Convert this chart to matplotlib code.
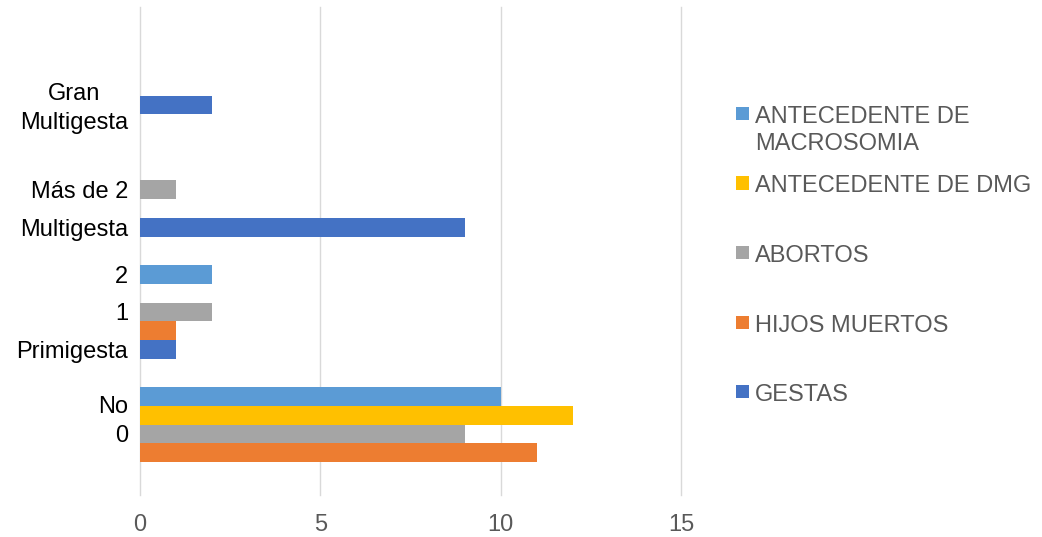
import matplotlib.pyplot as plt
from matplotlib.patches import Rectangle

plt.rcParams['font.family'] = ['Liberation Sans', 'DejaVu Sans']

# series, drawn bottom to top inside each group
series = ['GESTAS', 'HIJOS MUERTOS', 'ABORTOS', 'ANTECEDENTE DE DMG', 'ANTECEDENTE DE\nMACROSOMIA']
colors = ['#4472C4', '#ED7D31', '#A5A5A5', '#FFC000', '#5B9BD5']

# values per group (group 0 at the bottom)
gestas = [0, 1, 9, 2]
hijos_muertos = [11, 1, 0, 0]
abortos = [9, 2, 1, 0]
antecedente_dmg = [12, 0, 0, 0]
antecedente_macrosomia = [10, 2, 0, 0]
values = [gestas, hijos_muertos, abortos, antecedente_dmg, antecedente_macrosomia]

# category labels, each sitting next to the bar slot it describes
cat_labels = ['0', 'No', 'Primigesta', '1', '2', 'Multigesta', 'Más de 2', 'Gran\nMultigesta']
cat_group = [0, 0, 1, 1, 1, 2, 2, 3]
cat_slot = [2, 3.6, 0, 2, 4, 0, 2, 0.15]

bar_h = 0.153

fig = plt.figure(figsize=(10.42, 5.37), dpi=100)
ax = fig.add_axes([0.1344, 0.0782, 0.6536 - 0.1344, 0.9875 - 0.0782])

groups = range(len(gestas))
for s, (name, vals, c) in enumerate(zip(series, values, colors)):
    ys = [g + (s - 2) * bar_h for g in groups]
    ax.barh(ys, vals, height=bar_h, color=c, linewidth=0, zorder=3)

ax.set_xlim(0, 15)
ax.set_ylim(-0.5, 3.5)
ax.set_xticks([0, 5, 10, 15])
ax.grid(axis='x', color='#D9D9D9', linewidth=1.0, zorder=0)
for gl in ax.get_xgridlines():
    gl.set_clip_on(False)

ax.set_yticks([g + (s - 2) * bar_h for g, s in zip(cat_group, cat_slot)])
ax.set_yticklabels(cat_labels, multialignment='center', linespacing=1.4)
ax.tick_params(axis='y', length=0, pad=8.5, labelsize=17, labelcolor='black')
ax.tick_params(axis='x', length=0, pad=14, labelsize=17, labelcolor='#595959')
for sp in ax.spines.values():
    sp.set_visible(False)

# legend, top entry first, marker level with the first text line
W, H = 1042, 537
leg_y = 113.5
for name, c in zip(series[::-1], colors[::-1]):
    fig.add_artist(Rectangle((736 / W, 1 - (leg_y + 6.5) / H), 13 / W, 13 / H,
                             transform=fig.transFigure, color=c, linewidth=0))
    fig.text(755 / W, 1 - (leg_y - 7.5) / H, name, fontsize=17, color='#595959',
             va='top', ha='left', linespacing=1.3)
    leg_y += 69.5

fig.savefig('out.png', dpi=100)
